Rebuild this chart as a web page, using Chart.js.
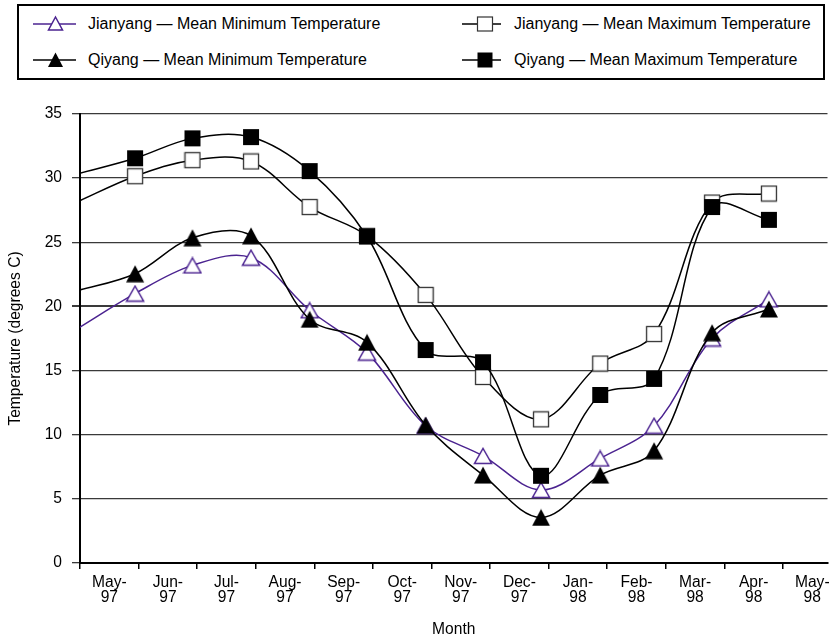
<!DOCTYPE html>
<html>
<head>
<meta charset="utf-8">
<script src="https://cdn.jsdelivr.net/npm/chart.js@4.4.0/dist/chart.umd.min.js"></script>
<style>
html,body{margin:0;padding:0;background:#fff;overflow:hidden;}
#wrap{position:relative;width:831px;height:643px;overflow:hidden;}
#c{position:absolute;left:0;top:0;}
#legend{position:absolute;left:17px;top:4px;width:808px;height:76px;border:2px solid #000;box-sizing:border-box;background:#fff;}
.mk{position:absolute;}
.tx{position:absolute;height:20px;line-height:20px;font-family:"Liberation Sans",Arial,sans-serif;font-size:16px;color:#000;white-space:nowrap;}
</style>
</head>
<body>
<div id="wrap">
<canvas id="c" width="837" height="643"></canvas>
<div id="legend">
  <svg class="mk" style="left:11px;top:8px" width="50" height="20">
    <line x1="3" y1="10" x2="46" y2="10" stroke="#4b2390" stroke-width="1.5"/>
    <polygon points="25.5,3 32.5,16 18.5,16" fill="#fff" stroke="#4b2390" stroke-width="1.5"/>
  </svg>
  <div class="tx" style="left:69px;top:8px">Jianyang — Mean Minimum Temperature</div>
  <svg class="mk" style="left:439px;top:8px" width="50" height="20">
    <line x1="4" y1="10" x2="43" y2="10" stroke="#000" stroke-width="1.5"/>
    <rect x="19.5" y="3" width="15" height="14" fill="#fff" stroke="#333" stroke-width="1.2"/>
  </svg>
  <div class="tx" style="left:495px;top:8px">Jianyang — Mean Maximum Temperature</div>
  <svg class="mk" style="left:11px;top:44px" width="50" height="20">
    <line x1="3" y1="10" x2="46" y2="10" stroke="#000" stroke-width="1.5"/>
    <polygon points="25.5,2.5 33,17 18,17" fill="#000"/>
  </svg>
  <div class="tx" style="left:69px;top:44px">Qiyang — Mean Minimum Temperature</div>
  <svg class="mk" style="left:439px;top:44px" width="50" height="20">
    <line x1="4" y1="10" x2="43" y2="10" stroke="#000" stroke-width="1.5"/>
    <rect x="19.5" y="2.5" width="15" height="15" fill="#000"/>
  </svg>
  <div class="tx" style="left:495px;top:44px">Qiyang — Mean Maximum Temperature</div>
</div>
</div>
<script>
// ---- data ----
const monthLabels = ['May-97','Jun-97','Jul-97','Aug-97','Sep-97','Oct-97','Nov-97','Dec-97','Jan-98','Feb-98','Mar-98','Apr-98','May-98'];
// sample position in months after 1 May 1997 (first sample falls just before the axis start)
const sampleMonth = [-0.07, 0.94, 1.92, 2.92, 3.92, 4.90, 5.90, 6.88, 7.87, 8.88, 9.80, 10.79, 11.76];
const jianyangMin = [18.2, 21.0, 23.2, 23.8, 19.7, 16.4, 10.7, 8.35, 5.7, 8.15, 10.7, 17.5, 20.55];
const jianyangMax = [28.1, 30.15, 31.4, 31.3, 27.75, 25.5, 20.9, 14.5, 11.2, 15.55, 17.85, 28.1, 28.8];
const qiyangMin   = [21.2, 22.55, 25.35, 25.5, 19.0, 17.2, 10.75, 6.85, 3.55, 6.85, 8.75, 17.95, 19.8];
const qiyangMax   = [30.3, 31.55, 33.1, 33.2, 30.55, 25.45, 16.6, 15.65, 6.8, 13.1, 14.35, 27.75, 26.75];
const yTicks = [0, 5, 10, 15, 20, 25, 30, 35];

const PURPLE = '#4b2390';
const FONT = '"Liberation Sans", Arial, sans-serif';

function mkCanvas(w, h, draw){ const c = document.createElement('canvas'); c.width = w; c.height = h; draw(c.getContext('2d')); return c; }
const sqHollow = mkCanvas(18, 18, g => { g.fillStyle='#fff'; g.fillRect(1,1,16,16); g.strokeStyle='#333'; g.lineWidth=1.3; g.strokeRect(1.5,1.5,15,15); });
const sqFilled = mkCanvas(18, 18, g => { g.fillStyle='#000'; g.fillRect(1,1,16,16); });
const triHollow = mkCanvas(20, 18, g => { g.beginPath(); g.moveTo(10,1.5); g.lineTo(18.5,16.5); g.lineTo(1.5,16.5); g.closePath(); g.fillStyle='#fff'; g.fill(); g.strokeStyle=PURPLE; g.lineWidth=1.5; g.stroke(); });
const triFilled = mkCanvas(20, 18, g => { g.beginPath(); g.moveTo(10,0.5); g.lineTo(19,17.5); g.lineTo(1,17.5); g.closePath(); g.fillStyle='#000'; g.fill(); });

function pts(vals){ return sampleMonth.map((m, i) => ({x: m, y: vals[i]})); }
const radius = c => (c.raw && c.raw.x < 0) ? 0 : 8;

new Chart(document.getElementById('c'), {
  type: 'line',
  data: {
    datasets: [
      {label: 'Jianyang — Mean Minimum Temperature', data: pts(jianyangMin), borderColor: PURPLE, borderWidth: 1.5, pointStyle: triHollow, pointRadius: radius, order: 2},
      {label: 'Jianyang — Mean Maximum Temperature', data: pts(jianyangMax), borderColor: '#000', borderWidth: 1.5, pointStyle: sqHollow, pointRadius: radius, order: 2},
      {label: 'Qiyang — Mean Minimum Temperature', data: pts(qiyangMin), borderColor: '#000', borderWidth: 1.5, pointStyle: triFilled, pointRadius: radius, order: 1},
      {label: 'Qiyang — Mean Maximum Temperature', data: pts(qiyangMax), borderColor: '#000', borderWidth: 1.5, pointStyle: sqFilled, pointRadius: radius, order: 1}
    ]
  },
  options: {
    responsive: false, animation: false, devicePixelRatio: 1,
    layout: {padding: {top: 114, right: 3, left: 0, bottom: 0}},
    plugins: {legend: {display: false}, tooltip: {enabled: false}},
    elements: {line: {tension: 0.35, capBezierPoints: false, fill: false}},
    scales: {
      x: {
        type: 'linear', min: 0, max: 12.76,
        afterBuildTicks: s => { s.ticks = monthLabels.map((_, i) => ({value: i})); },
        afterFit: s => { s.height = 80; },
        ticks: {autoSkip: false, maxRotation: 0, labelOffset: 29.3, padding: 6, color: '#000',
          font: {family: FONT, size: 15.6, lineHeight: '15px'},
          callback: v => { const l = monthLabels[v]; return l ? [l.slice(0, 4), l.slice(4)] : ''; }},
        grid: {drawOnChartArea: false, drawTicks: true, tickLength: 6, color: '#000', lineWidth: 1.5},
        border: {display: true, color: '#000', width: 2},
        title: {display: true, text: 'Month', color: '#000', font: {family: FONT, size: 15.6}, padding: {top: 0, bottom: 3.5}}
      },
      y: {
        min: 0, max: 35,
        afterBuildTicks: s => { s.ticks = yTicks.map(v => ({value: v})); },
        afterFit: s => { s.width = 80; },
        ticks: {padding: 10, color: '#000', font: {family: FONT, size: 15.6}},
        grid: {color: '#3a3a3a', lineWidth: c => (c.tick && c.tick.value === 20) ? 2 : 1.3, tickLength: 8},
        border: {display: true, color: '#000', width: 2},
        title: {display: true, text: 'Temperature (degrees C)', color: '#000', font: {family: FONT, size: 15.6}, padding: {top: 6, bottom: 0}}
      }
    }
  }
});
</script>
</body>
</html>
